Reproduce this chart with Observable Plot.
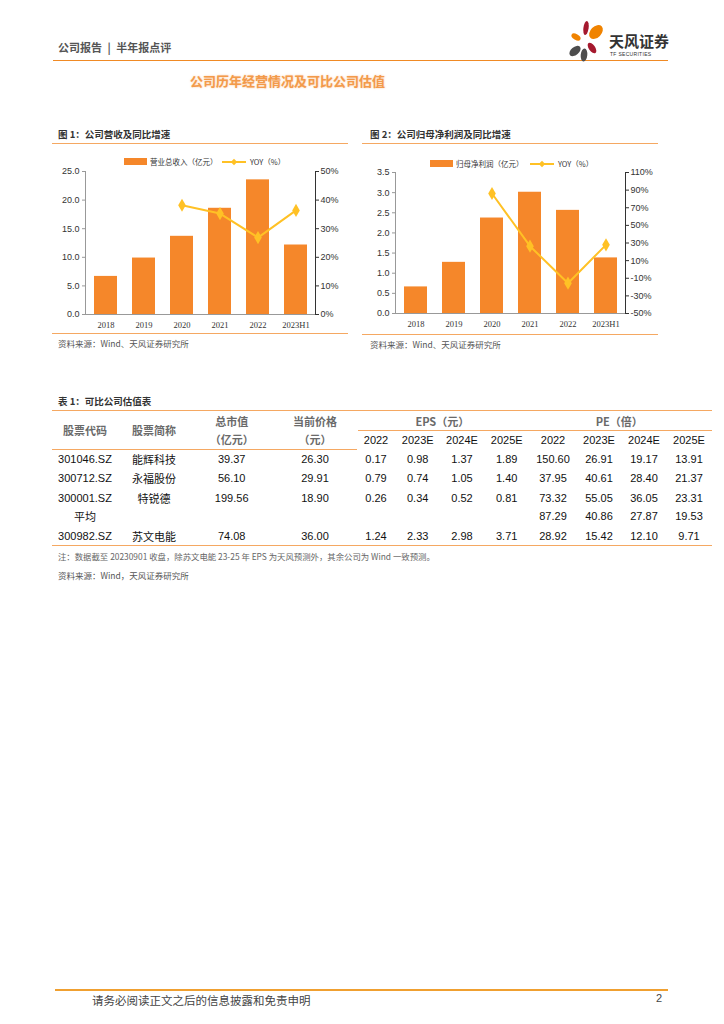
<!DOCTYPE html>
<html>
<head>
<meta charset="utf-8">
<script src="https://cdn.jsdelivr.net/npm/d3@7"></script>
<script src="https://cdn.jsdelivr.net/npm/@observablehq/plot@0.6"></script>
<style>
  html, body { margin: 0; padding: 0; background: #fff; }
  body { width: 724px; height: 1024px; position: relative; overflow: hidden;
         font-family: "Noto Sans CJK SC", "Liberation Sans", sans-serif; color: #333; }
  .abs { position: absolute; white-space: nowrap; }
  .hline { position: absolute; height: 0; }
  .cell { position: absolute; white-space: nowrap; transform: translate(-50%, -50%);
          font-family: "Liberation Sans", "Noto Sans CJK SC", sans-serif; font-size: 11px; color: #111; }
  .cn { font-family: "Noto Sans CJK SC", sans-serif; }
  .hdr { font-family: "Noto Sans CJK SC", "Liberation Sans", sans-serif; color: #6a6a6a; font-weight: bold; font-size: 11px; }
  .chart { position: absolute; }
  .chart svg { overflow: visible; }
</style>
</head>
<body>
<div id="page"></div>
<script>
// ---------- data ----------
const years = ["2018", "2019", "2020", "2021", "2022", "2023H1"];
const revenue = [6.66, 9.87, 13.67, 18.57, 23.54, 12.15];          // 营业总收入（亿元）
const revenueYoy = [null, null, 38.2, 35.3, 26.9, 36.4];          // YOY（%）
const profit = [0.66, 1.27, 2.37, 3.01, 2.56, 1.38];               // 归母净利润（亿元）
const profitYoy = [null, null, 86.2, 26.4, -15.6, 27.9];          // YOY（%）

const revTicks = [0, 5, 10, 15, 20, 25];
const revYoyTicks = [0, 10, 20, 30, 40, 50];
const profTicks = [0, 0.5, 1, 1.5, 2, 2.5, 3, 3.5];
const profYoyTicks = [-50, -30, -10, 10, 30, 50, 70, 90, 110];

const codes = ["301046.SZ", "300712.SZ", "300001.SZ", "平均", "300982.SZ"];
const names = ["能辉科技", "永福股份", "特锐德", "", "苏文电能"];
const marketCap = ["39.37", "56.10", "199.56", "", "74.08"];
const price = ["26.30", "29.91", "18.90", "", "36.00"];
const eps2022 = ["0.17", "0.79", "0.26", "", "1.24"];
const eps2023 = ["0.98", "0.74", "0.34", "", "2.33"];
const eps2024 = ["1.37", "1.05", "0.52", "", "2.98"];
const eps2025 = ["1.89", "1.40", "0.81", "", "3.71"];
const pe2022 = ["150.60", "37.95", "73.32", "87.29", "28.92"];
const pe2023 = ["26.91", "40.61", "55.05", "40.86", "15.42"];
const pe2024 = ["19.17", "28.40", "36.05", "27.87", "12.10"];
const pe2025 = ["13.91", "21.37", "23.31", "19.53", "9.71"];
const yearHeads = ["2022", "2023E", "2024E", "2025E", "2022", "2023E", "2024E", "2025E"];

// ---------- helpers ----------
const page = document.getElementById("page");
const BAR = "#F5872A", LINE = "#FFC125", RULE = "#F5A862";
function div(cls, style, html) {
  const d = document.createElement("div");
  d.className = cls; d.style.cssText = style; if (html != null) d.innerHTML = html;
  page.appendChild(d); return d;
}
function hline(x1, x2, y, color, w) {
  div("hline", `left:${x1}px;top:${y - w / 2}px;width:${x2 - x1}px;border-top:${w}px solid ${color};`);
}

// ---------- page header ----------
div("abs", "left:58px;top:39px;font-size:11px;color:#555;font-weight:bold;", "公司报告&ensp;|&ensp;半年报点评");
hline(53, 668, 60.5, "#F08A24", 1.6);
div("abs", "left:565px;top:16px;", `
<svg width="110" height="48" viewBox="0 0 110 48">
  <ellipse cx="21" cy="12" rx="2.6" ry="7" fill="#A5192E" transform="rotate(8 21 12)"/>
  <ellipse cx="31" cy="16" rx="5.5" ry="8" fill="#F08300" transform="rotate(45 31 16)"/>
  <ellipse cx="11" cy="21" rx="2.8" ry="5" fill="#F08300" transform="rotate(-60 11 21)"/>
  <ellipse cx="10" cy="35" rx="4" ry="6.5" fill="#4D4D4D" transform="rotate(50 10 35)"/>
  <ellipse cx="27" cy="32" rx="3.2" ry="6" fill="#A5192E" transform="rotate(-35 27 32)"/>
  <ellipse cx="19" cy="39" rx="3.3" ry="6.5" fill="#4D4D4D" transform="rotate(5 19 39)"/>
  <text x="44" y="31" font-family="Noto Sans CJK SC" font-weight="bold" font-size="15" fill="#333">天风证券</text>
  <text x="45" y="40" font-family="Liberation Sans" font-size="5" fill="#333" letter-spacing="0.3">TF SECURITIES</text>
</svg>`);
div("abs", "left:190px;top:71px;font-size:13px;font-weight:bold;color:#F39A4A;text-shadow:0 0 2px rgba(243,150,70,0.55);", "公司历年经营情况及可比公司估值");

// ---------- chart builder ----------
function comboChart(opt) {
  const rows = years.map((y, i) => ({year: y, value: opt.bars[i]}));
  const yoyRows = years.map((y, i) => ({year: y, value: opt.yoy[i]})).filter(d => d.value != null);
  const common = {
    width: opt.width, height: opt.height,
    marginLeft: opt.ml, marginRight: opt.mr, marginTop: opt.mt, marginBottom: opt.mb,
    x: {type: "band", domain: years, paddingInner: 0.4, paddingOuter: 0.2, label: null},
  };
  const A = Plot.plot({
    ...common,
    style: {background: "transparent", fontFamily: "Liberation Sans", fontSize: "9px", color: "#333", overflow: "visible"},
    y: {domain: opt.yDomain, label: null},
    marks: [
      Plot.barY(rows, {x: "year", y: "value", fill: BAR}),
      Plot.axisY({ticks: opt.yTicks, tickFormat: d3.format(".1f"), tickSize: 3, tickPadding: 3, label: null, stroke: "#999", fill: "#333", fontSize: 9}),
      Plot.axisX({tickSize: 0, tickPadding: 7, label: null, fontFamily: "Liberation Serif", fontSize: 8.5, fill: "#333"}),
      Plot.frame({anchor: "left", stroke: "#999"}),
      Plot.ruleY([opt.yDomain[0]], {stroke: "#999"})
    ]
  });
  const B = Plot.plot({
    ...common,
    style: {background: "transparent", fontFamily: "Liberation Sans", fontSize: "9px", color: "#333", overflow: "visible"},
    x: {...common.x, axis: null},
    y: {domain: opt.yoyDomain, label: null},
    marks: [
      Plot.line(yoyRows, {x: "year", y: "value", stroke: LINE, strokeWidth: 2}),
      Plot.dot(yoyRows, {x: "year", y: "value", symbol: "diamond", fill: LINE, r: 4}),
      Plot.axisY({anchor: "right", ticks: opt.yoyTicks, tickFormat: d => d + "%", tickSize: 3, tickPadding: 2, label: null, stroke: "#333", fill: "#333", fontSize: 9}),
      Plot.frame({anchor: "right", stroke: "#333"})
    ]
  });
  const wa = div("chart", `left:${opt.left}px;top:${opt.top}px;`);
  wa.appendChild(A);
  const wb = div("chart", `left:${opt.left}px;top:${opt.top}px;pointer-events:none;`);
  wb.appendChild(B);
}

function legend(x, y, barLabel, lineX) {
  div("abs", `left:${x}px;top:${y - 3.5}px;width:23px;height:7px;background:${BAR};`);
  div("abs", `left:${x + 26}px;top:${y - 6}px;font-size:7.5px;line-height:12px;color:#333;`, barLabel);
  div("abs", `left:${lineX}px;top:${y}px;`, `<svg width="26" height="8" style="position:absolute;top:-4px;left:0;overflow:visible">
     <line x1="0" y1="4" x2="24" y2="4" stroke="${LINE}" stroke-width="2"/>
     <path d="M12,0.8 L15.2,4 L12,7.2 L8.8,4 Z" fill="${LINE}"/></svg>`);
  div("abs", `left:${lineX + 28}px;top:${y - 6}px;font-size:7.5px;line-height:12px;color:#333;`, "YOY（%）");
}

// ---------- figure 1 ----------
div("abs", "left:58px;top:127px;font-size:9.5px;font-weight:bold;color:#333;", "图 1：公司营收及同比增速");
hline(52, 348, 143.3, RULE, 1);
legend(124, 161.7, "营业总收入（亿元）", 222);
comboChart({bars: revenue, yoy: revenueYoy, yDomain: [0, 25], yTicks: revTicks, yoyDomain: [0, 50], yoyTicks: revYoyTicks,
  left: 50, top: 163.7, width: 300, height: 172, ml: 35, mr: 35, mt: 7, mb: 22});
hline(52, 348, 333.5, RULE, 1);
div("abs", "left:58px;top:337px;font-size:8.5px;color:#555;", "资料来源：Wind、天风证券研究所");

// ---------- figure 2 ----------
div("abs", "left:370px;top:127px;font-size:9.5px;font-weight:bold;color:#333;", "图 2：公司归母净利润及同比增速");
hline(362, 658, 143.3, RULE, 1);
legend(430, 163.7, "归母净利润（亿元）", 530);
comboChart({bars: profit, yoy: profitYoy, yDomain: [0, 3.5], yTicks: profTicks, yoyDomain: [-50, 110], yoyTicks: profYoyTicks,
  left: 360, top: 165.3, width: 305, height: 170, ml: 35, mr: 40, mt: 7, mb: 22});
hline(362, 658, 334, RULE, 1);
div("abs", "left:370px;top:337.5px;font-size:8.5px;color:#555;", "资料来源：Wind、天风证券研究所");

// ---------- table ----------
div("abs", "left:58px;top:394px;font-size:9.5px;font-weight:bold;color:#333;", "表 1：可比公司估值表");
hline(52, 712, 410.7, RULE, 1.2);
hline(358, 712, 430.7, RULE, 1.2);
hline(52, 357, 449.3, RULE, 1.2);
hline(52, 712, 545.3, RULE, 1.2);

const colX = [85, 154, 231.7, 315, 376, 417.7, 462, 506.7, 553, 599, 644, 689];
const rowY = [459.3, 478.3, 497.7, 516, 535.7];
function cell(x, y, text, cls) {
  div("cell" + (cls ? " " + cls : ""), `left:${x}px;top:${y}px;`, text);
}
cell(colX[0], 430, "股票代码", "hdr");
cell(colX[1], 430, "股票简称", "hdr");
cell(colX[2], 420.7, "总市值", "hdr");
cell(colX[2], 439.3, "（亿元）", "hdr");
cell(colX[3], 420.7, "当前价格", "hdr");
cell(colX[3], 439.3, "（元）", "hdr");
cell(442.3, 420.7, "EPS（元）", "hdr");
cell(619.3, 420.7, "PE（倍）", "hdr");
yearHeads.forEach((h, i) => cell(colX[4 + i], 440, h));

const cols = [codes, names, marketCap, price, eps2022, eps2023, eps2024, eps2025, pe2022, pe2023, pe2024, pe2025];
cols.forEach((col, c) => col.forEach((v, r) => {
  if (v === "") return;
  const isCn = /[\u4e00-\u9fff]/.test(v);
  cell(colX[c], rowY[r], v, isCn ? "cn" : "");
}));

div("abs", "left:58px;top:550px;font-size:8.4px;color:#666;", "注：数据截至 20230901 收盘，除苏文电能 23-25 年 EPS 为天风预测外，其余公司为 Wind 一致预测。");
div("abs", "left:58px;top:568.5px;font-size:8.5px;color:#555;", "资料来源：Wind，天风证券研究所");

// ---------- footer ----------
hline(55, 668, 990, "#F0A030", 2);
div("abs", "left:92px;top:991.5px;font-size:11.5px;color:#444;", "请务必阅读正文之后的信息披露和免责申明");
div("abs", "left:656px;top:992px;font-size:11px;color:#444;font-family:'Liberation Sans';", "2");
</script>
</body>
</html>
